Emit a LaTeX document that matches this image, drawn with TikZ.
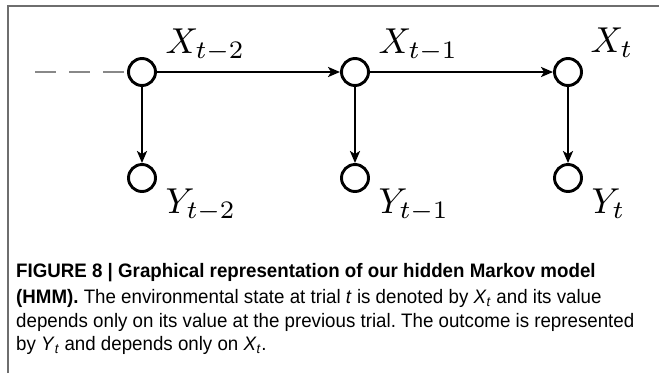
\documentclass[tikz,border=0pt]{standalone}
\usepackage{fontspec}
\setsansfont[FakeStretch=0.96]{Liberation Sans}
\usetikzlibrary{arrows.meta,calc}
\definecolor{framegray}{HTML}{6E6E6E}
\definecolor{dashgray}{HTML}{888888}
\frenchspacing
\tikzset{
  state/.style={circle,draw=black,line width=2.9pt,fill=white,minimum size=27pt,inner sep=0pt},
  conn/.style={line width=2.7pt,-{Stealth[length=12pt,width=10pt,inset=3pt]}},
  lab/.style={anchor=base west,inner sep=0pt,scale=3.6,transform shape},
  captext/.style={anchor=base west,inner sep=0pt,font=\sffamily\fontsize{19.5}{22}\selectfont},
}
\begin{document}
\begin{tikzpicture}[x=1pt,y=-1pt]
\useasboundingbox (0,0) rectangle (659,373);
% frame
\draw[framegray,line width=2pt] (8,373) -- (8,6) -- (659,6);
% nodes
\node[state] (x1) at (142,72) {};
\node[state] (x2) at (355,72) {};
\node[state] (x3) at (568,72) {};
\node[state] (y1) at (142,178) {};
\node[state] (y2) at (355,178) {};
\node[state] (y3) at (568,178) {};
\coordinate (start) at (35,72);
% connectors
\draw[dashgray,line width=2.7pt,dash pattern=on 21pt off 13pt] (start) -- (x1.west);
\draw[conn] (x1) -- (x2);
\draw[conn] (x2) -- (x3);
\draw[conn] (x1) -- (y1);
\draw[conn] (x2) -- (y2);
\draw[conn] (x3) -- (y3);
% labels
\node[lab] (lx1) at (165,53) {$X_{t-2}$};
\node[lab] (lx2) at (378,53) {$X_{t-1}$};
\node[lab] (lx3) at (590,52) {$X_{t}$};
\node[lab] (ly1) at (165,213) {$Y_{t-2}$};
\node[lab] (ly2) at (378,213) {$Y_{t-1}$};
\node[lab] (ly3) at (591,213) {$Y_{t}$};
% caption
\node[captext] (c1) at (16,277) {\bfseries FIGURE 8 | Graphical representation of our hidden Markov model};
\node[captext] (c2) at (16,303) {\textbf{(HMM).} The environmental state at trial \textit{t} is denoted by \textit{X}\textsubscript{\textit{t}} and its value};
\node[captext] (c3) at (16,327) {depends only on its value at the previous trial. The outcome is represented};
\node[captext] (c4) at (16,350) {by \textit{Y}\textsubscript{\textit{t}} and depends only on \textit{X}\textsubscript{\textit{t}}.};
\end{tikzpicture}
\end{document}
